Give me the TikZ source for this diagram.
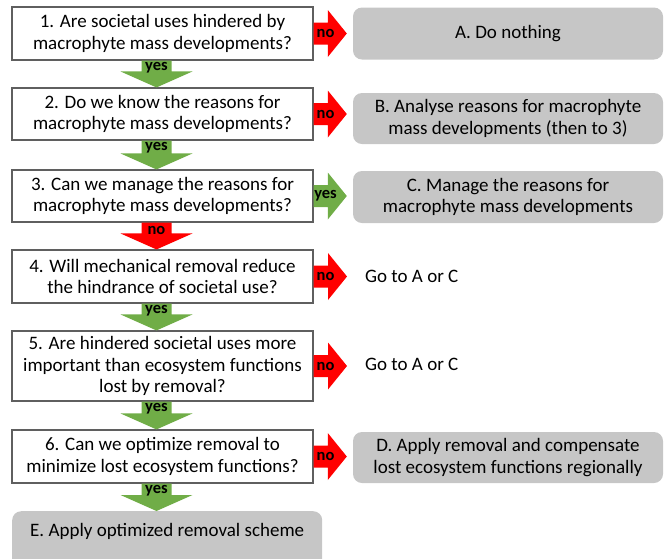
\documentclass[tikz,border=0pt]{standalone}
\usepackage{fontspec}
\setmainfont{Carlito}
\usepackage{xcolor}
\usepackage{tikz}
\usetikzlibrary{calc}

\definecolor{yesgreen}{RGB}{112,173,71}
\definecolor{nored}{RGB}{255,0,0}
\definecolor{boxgray}{RGB}{198,198,198}
\definecolor{edgegray}{RGB}{95,95,95}

\begin{document}
\begin{tikzpicture}[x=1pt, y=1pt,
            ques/.style={draw=edgegray, line width=1.1pt, fill=white, rectangle, minimum width=301pt, minimum height=53pt, align=center, inner sep=2pt, font=\fontsize{19}{21.5}\selectfont},
            act/.style={fill=boxgray, rectangle, rounded corners=9pt, minimum width=310pt, minimum height=52pt, align=center, inner sep=2pt, font=\fontsize{19}{21.5}\selectfont},
            goto/.style={anchor=west, inner xsep=12pt, font=\fontsize{19}{21.5}\selectfont},
            lbl/.style={text=black, inner sep=0pt, font=\fontsize{16.5}{16.5}\selectfont\bfseries},
            dnarr/.style={to path={let \p1=(\tikztostart.south), \p2=(\tikztotarget.north) in
                (\x1-21pt,\y1) -- (\x1-21pt,\y2+16pt) -- (\x1-42pt,\y2+16pt) -- (\x1-6pt,\y2)
                -- (\x1+30pt,\y2+16pt) -- (\x1+9pt,\y2+16pt) -- (\x1+9pt,\y1) -- cycle
                (\x1-6pt,\y1-7.5pt) node[lbl] {#1}}},
            rtarr/.style={to path={let \p1=(\tikztostart.east), \p2=(\tikztotarget.west) in
                (\x1,\y1+11pt) -- (\x2-25pt,\y1+11pt) -- (\x2-25pt,\y1+23.5pt) -- (\x2-6pt,\y1)
                -- (\x2-25pt,\y1-23.5pt) -- (\x2-25pt,\y1-11pt) -- (\x1,\y1-11pt) -- cycle
                (\x1+12pt,\y1) node[lbl] {#1}}}]

            \useasboundingbox (0,0) rectangle (667,-558);
            \clip (0,0) rectangle (667,-558);

            % questions
            \node[ques] (q1) at (162.5,-33.5) {1. Are societal uses hindered by\\macrophyte mass developments?};
            \node[ques, minimum height=52pt] (q2) at (162.5,-114) {2. Do we know the reasons for\\macrophyte mass developments?};
            \node[ques, minimum height=52pt] (q3) at (162.5,-196) {3. Can we manage the reasons for\\macrophyte mass developments?};
            \node[ques] (q4) at (162.5,-276.5) {4. Will mechanical removal reduce\\the hindrance of societal use?};
            \node[ques, minimum height=70pt] (q5) at (162.5,-366) {5. Are hindered societal uses more\\important than ecosystem functions\\lost by removal?};
            \node[ques] (q6) at (162.5,-456.5) {6. Can we optimize removal to\\minimize lost ecosystem functions?};

            % actions
            \node[act] (ansA) at (508,-33.5) {A. Do nothing};
            \node[act, minimum height=51pt] (ansB) at (508,-118.5) {B. Analyse reasons for macrophyte\\mass developments (then to 3)};
            \node[act] (ansC) at (508,-197) {C. Manage the reasons for\\macrophyte mass developments};
            \node[goto] (go4) at (353,-276) {Go to A or C};
            \node[goto] (go5) at (353,-364) {Go to A or C};
            \node[act, minimum height=51pt] (ansD) at (508,-457.5) {D. Apply removal and compensate\\lost ecosystem functions regionally};
            \node[act, anchor=north west, minimum height=0pt, inner ysep=11pt, text height=14pt, text depth=22pt] (ansE) at (12,-511) {E. Apply optimized removal scheme};

            % down arrows
            \fill[yesgreen] (q1) to[dnarr=yes] (q2);
            \fill[yesgreen] (q2) to[dnarr=yes] (q3);
            \fill[nored] (q3) to[dnarr=no] (q4);
            \fill[yesgreen] (q4) to[dnarr=yes] (q5);
            \fill[yesgreen] (q5) to[dnarr=yes] (q6);
            \fill[yesgreen] (q6) to[dnarr=yes] (ansE);

            % right arrows
            \fill[nored] (q1) to[rtarr=no] (ansA);
            \fill[nored] (q2) to[rtarr=no] (ansB);
            \fill[yesgreen] (q3) to[rtarr=yes] (ansC);
            \fill[nored] (q4) to[rtarr=no] (go4);
            \fill[nored] (q5) to[rtarr=no] (go5);
            \fill[nored] (q6) to[rtarr=no] (ansD);
        \end{tikzpicture}
\end{document}
